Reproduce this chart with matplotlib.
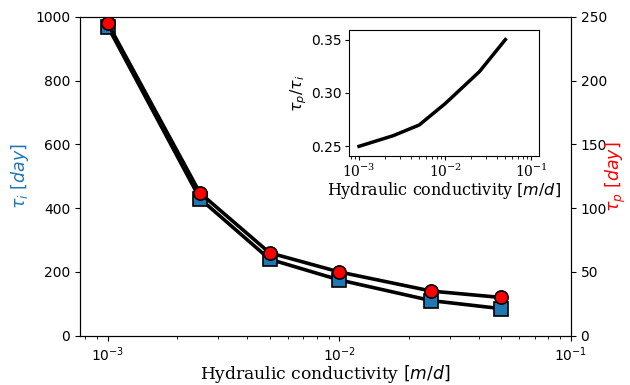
import matplotlib
matplotlib.use("Agg")
import matplotlib.pyplot as plt

# hydraulic conductivity [m/d]
conductivity = [0.001, 0.0025, 0.005, 0.01, 0.025, 0.05]
tau_i = [970, 430, 240, 175, 110, 85]
tau_p = [245, 112, 65, 50, 35, 30]
ratio = [0.25, 0.26, 0.27, 0.29, 0.32, 0.35]

xlabel = r"Hydraulic conductivity $[m/d]$"

fig = plt.figure(figsize=(6.3, 3.85), dpi=100)
ax = fig.add_axes([0.127, 0.128, 0.779, 0.828])

ax.plot(conductivity, tau_i, color="black", lw=2.6, marker="s", ms=9.5,
        mfc="C0", mec="black", mew=1.2, zorder=3)
ax.set_xscale("log")
ax.set_xlim(10 ** -3.12, 0.1)
ax.set_ylim(0, 1000)
ax.set_ylabel(r"$\tau_i\ [day]$", color="C0", fontsize=12.5, labelpad=3)
ax.set_xlabel(xlabel, family="DejaVu Serif", fontsize=12.3, labelpad=-0.5)
ax.tick_params(labelsize=10)

ax2 = ax.twinx()
ax2.plot(conductivity, tau_p, color="black", lw=2.6, marker="o", ms=9.5,
         mfc="red", mec="black", mew=1.2, zorder=3)
ax2.set_ylim(0, 250)
ax2.set_ylabel(r"$\tau_p\ [day]$", color="red", fontsize=12.5, labelpad=-2)
ax2.tick_params(labelsize=10)

ins = fig.add_axes([0.554, 0.595, 0.302, 0.327])
ins.plot(conductivity, ratio, color="black", lw=2.5)
ins.set_xscale("log")
ins.set_xlim(10 ** -3.116, 10 ** -0.907)
ins.set_ylim(0.241, 0.359)
ins.set_yticks([0.25, 0.30, 0.35])
ins.set_ylabel(r"$\tau_p/\tau_i$", fontsize=11.5, labelpad=2)
ins.set_xlabel(xlabel, family="DejaVu Serif", fontsize=11.5, labelpad=0)
ins.tick_params(labelsize=10, length=3, pad=2)
for lab in ins.get_xticklabels():
    lab.set_family("DejaVu Serif")

fig.savefig("out.png", dpi=100)
